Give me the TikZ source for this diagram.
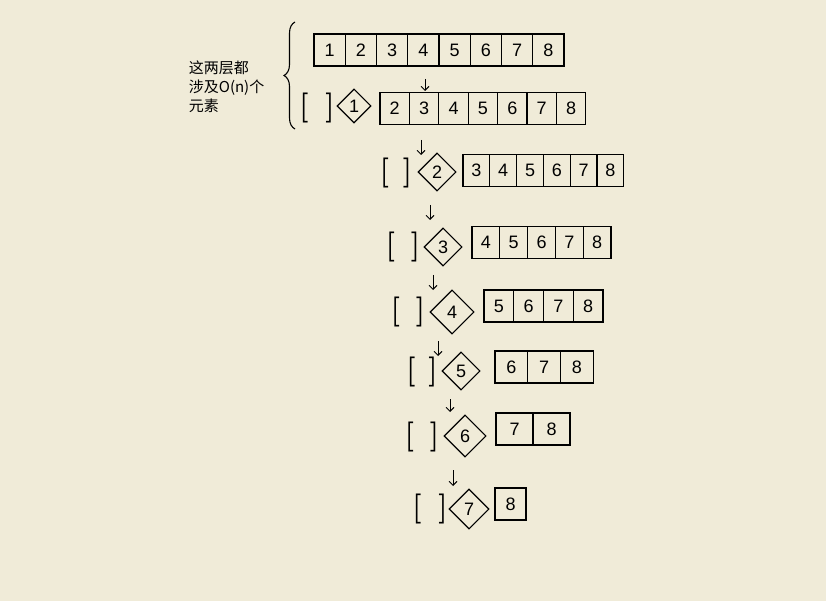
\documentclass[tikz,border=0pt]{standalone}
\usepackage{fontspec}
\newfontfamily\digitfont{Liberation Sans}
\newfontfamily\cjk{Noto Sans CJK SC}
\usetikzlibrary{shapes.geometric,decorations.pathreplacing,arrows.meta}
\definecolor{paper}{RGB}{240,235,216}

% one row of cells: name, first value, left x, centre y, cell width
\newcommand{\cellrow}[5]{%
  \foreach \k [count=\i from 0] in {#2,...,8}
    \node[cell,minimum width=#5pt] (#1c\k) at ({#3+#5*(\i+0.5)},#4) {\k};}

\begin{document}
\begin{tikzpicture}[x=1pt,y=-1pt,line width=1.1pt,
  cell/.style={draw,minimum height=32pt,inner sep=0pt,font=\digitfont\fontsize{18}{20}\selectfont},
  pivot/.style={draw,diamond,aspect=1.1,minimum size=38pt,inner sep=0pt,font=\digitfont\fontsize{18}{20}\selectfont},
  empty/.style={font=\bfseries\fontsize{30}{34}\selectfont,inner sep=0pt},
  down/.style={-{Straight Barb[length=4pt,width=8pt]},line width=0.9pt}]
\fill[paper] (0,0) rectangle (826,601);
\useasboundingbox (0,0) rectangle (826,601);

% note and brace
\node[anchor=west,align=left,font=\cjk\fontsize{15}{19}\selectfont] (note) at (185,87)
  {这两层都\\涉及O(\textit{n})个\\元素};
\coordinate (bb) at (295,129);
\coordinate (bt) at (295,22);
\draw[decorate,decoration={brace,amplitude=11pt}] (bb) -- (bt);

% first row
\cellrow{r0}{1}{314}{50}{31.25}

% partition rows
\node[empty] (e1) at (317,108) {[\hspace{17pt}]};
\node[pivot,minimum size=34pt] (p1) at (354,106) {1};
\cellrow{r1}{2}{380}{108.5}{29.4}

\node[empty] (e2) at (396,173) {[\hspace{14pt}]};
\node[pivot] (p2) at (437,172) {2};
\cellrow{r2}{3}{463}{170.5}{26.8}

\node[empty] (e3) at (403,247) {[\hspace{16pt}]};
\node[pivot] (p3) at (443,247) {3};
\cellrow{r3}{4}{472}{242.5}{27.8}

\node[empty] (e4) at (408,312) {[\hspace{16pt}]};
\node[pivot,minimum size=44pt] (p4) at (452,312) {4};
\cellrow{r4}{5}{484}{306}{29.75}

\node[empty] (e5) at (422,372) {[\hspace{13pt}]};
\node[pivot] (p5) at (461,371) {5};
\cellrow{r5}{6}{495}{367}{32.7}

\node[empty] (e6) at (422,437) {[\hspace{16pt}]};
\node[pivot,minimum size=42pt] (p6) at (465,436) {6};
\cellrow{r6}{7}{496}{429}{37}

\node[empty] (e7) at (430,509) {[\hspace{17pt}]};
\node[pivot,minimum size=40pt] (p7) at (469,509) {7};
\cellrow{r7}{8}{495}{504}{31}

% arrows between rows
\coordinate (a1s) at (425,79);  \coordinate (a1e) at (425,91);
\coordinate (a2s) at (421,140); \coordinate (a2e) at (421,155);
\coordinate (a3s) at (430,205); \coordinate (a3e) at (430,220);
\coordinate (a4s) at (433,275); \coordinate (a4e) at (433,290);
\coordinate (a5s) at (438,341); \coordinate (a5e) at (438,356);
\coordinate (a6s) at (450,399); \coordinate (a6e) at (450,412);
\coordinate (a7s) at (453,470); \coordinate (a7e) at (453,486);
\draw[down] (a1s) -- (a1e);
\draw[down] (a2s) -- (a2e);
\draw[down] (a3s) -- (a3e);
\draw[down] (a4s) -- (a4e);
\draw[down] (a5s) -- (a5e);
\draw[down] (a6s) -- (a6e);
\draw[down] (a7s) -- (a7e);

\end{tikzpicture}
\end{document}
